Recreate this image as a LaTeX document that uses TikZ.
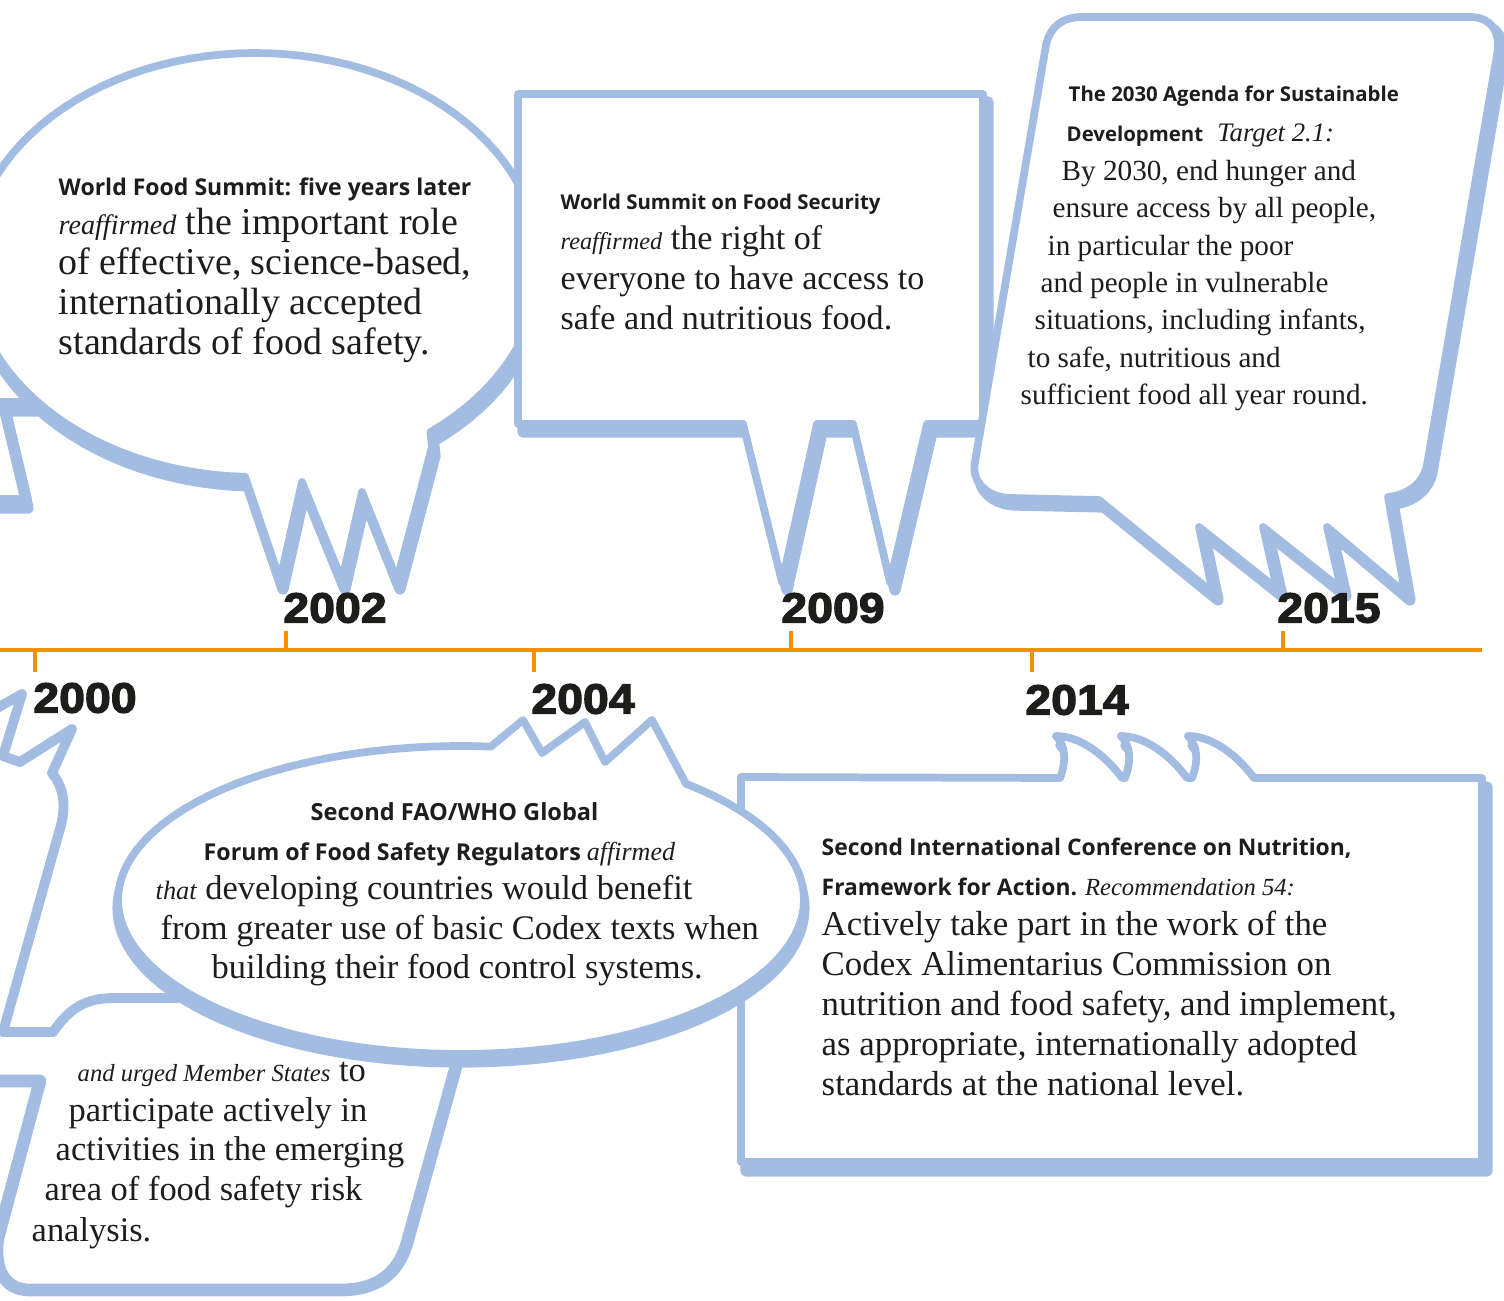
\documentclass[tikz,border=0pt]{standalone}
\usepackage{fontspec}
\setmainfont{Liberation Serif}
\setsansfont{Open Sans}
\newfontfamily\yearfont[FakeBold=3, FakeStretch=1.1]{Liberation Sans}

\definecolor{bubbleblue}{RGB}{162,188,226}
\definecolor{lineorange}{RGB}{243,146,0}
\definecolor{ink}{RGB}{29,29,27}

\newcommand\emword[2][7.2]{{\rmfamily\mdseries\fontsize{#1}{8}\selectfont\itshape #2}}

\tikzset{
  bubble/.style={draw=bubbleblue, fill=white, line width=2.2pt, line join=round,
    preaction={draw=bubbleblue, line width=3.2pt, line join=round, transform canvas={shift={#1}}}},
  bubble/.default={(4,8)},
  outline/.style={draw=bubbleblue, line width=#1, line join=round},
  head/.style={anchor=base west, inner sep=0pt, text=ink, font=\sffamily\bfseries\fontsize{#1}{7}\selectfont},
  head/.default=5.8,
  body/.style={anchor=base west, inner sep=0pt, text=ink, font=\fontsize{#1}{12}\selectfont},
  year/.style={text=ink, inner sep=0pt, font=\yearfont\bfseries\fontsize{12}{14}\selectfont},
  yearline/.style={draw=lineorange, line width=1.4pt}
}

\begin{document}
\begin{tikzpicture}[x=0.01cm, y=-0.01cm]
\useasboundingbox (0,0) rectangle (1504,1301);
\clip (0,0) rectangle (1504,1301);

% bubbles above the line
\draw[bubble={(0,9)}, fill=none] (-20,402) -- (60,402) (5,402) -- (28,499) -- (-20,499);
\draw[bubble={(3,9)}] plot[domain=52:-268, samples=100] ({255+285*cos(\x)}, {265+212*sin(\x)})
  -- (280,580) -- (302,482) -- (342,580) -- (362,492) -- (397,580) -- (432,447) -- cycle;
\draw[bubble={(5,8)}] (518,94) -- (983,94) -- (983,424) -- (927,424) -- (890,582) -- (853,424)
  -- (817,424) -- (782,582) -- (743,424) -- (518,424) -- cycle;
\draw[bubble={(5,7)}] (1082,17) -- (1470,17) .. controls (1492,17) and (1501,33) .. (1497,55)
  -- (1427,465) .. controls (1423,485) and (1406,495) .. (1388,497) -- (1405,593) -- (1327,527)
  -- (1341,589) -- (1263,527) -- (1277,589) -- (1199,527) -- (1213,593) -- (1099,500) -- (1010,498)
  .. controls (985,497) and (971,480) .. (975,462) -- (1046,45) .. controls (1050,27) and (1062,17) .. (1082,17) -- cycle;

% bubbles below the line
\draw[outline=2.8pt] (-10,712) -- (22,694) -- (3,756) -- (20,762) -- (72,729) -- (52,773)
  .. controls (64,788) and (66,805) .. (61,825) -- (3,1032) -- (53,1032)
  .. controls (70,1008) and (85,998) .. (115,998) -- (260,998);
\draw[outline=3.6pt] (-10,1081) -- (40,1081) -- (-2,1238) .. controls (-6,1262) and (0,1290) .. (30,1290)
  -- (340,1290) .. controls (385,1290) and (400,1266) .. (407,1243) -- (462,1045);
\draw[bubble={(5,9)}] (741,777) -- (1060,778)
  .. controls (1067,760) and (1065,745) .. (1056,736) .. controls (1080,736) and (1105,755) .. (1122,778)
  -- (1125,778) .. controls (1132,760) and (1130,745) .. (1121,736) .. controls (1145,736) and (1170,755) .. (1187,778)
  -- (1192,778) .. controls (1199,760) and (1197,745) .. (1188,736) .. controls (1212,736) and (1237,755) .. (1254,778)
  -- (1482,778) -- (1482,1162) -- (741,1162) -- cycle;
\draw[bubble={(0,8)}] plot[domain=-49:275, samples=100] ({461+343*cos(\x)}, {900+154*sin(\x)})
  -- (523,720) -- (542,753) -- (585,722) -- (605,762) -- (652,720) -- cycle;

% time line
\draw[yearline] (0,650) -- (1482,650);
\draw[yearline] (286,650) -- (286,631);
\draw[yearline] (791,650) -- (791,631);
\draw[yearline] (1283,650) -- (1283,631);
\draw[yearline] (35,650) -- (35,672);
\draw[yearline] (534,650) -- (534,672);
\draw[yearline] (1032,650) -- (1032,672);
\node[year] (y2002) at (335,608) {2002};
\node[year] (y2009) at (833,608) {2009};
\node[year] (y2015) at (1329,608) {2015};
\node[year] (y2000) at (85,698) {2000};
\node[year] (y2004) at (583,699) {2004};
\node[year] (y2014) at (1077,700) {2014};

% 2002
\node[head=6.55] (summithead) at (58,196) {World Food Summit: five years later};
\node[body=10.8] (summit1) at (58,235) {\emword[8]{reaffirmed} the important role};
\node[body=10.8] (summit2) at (58,275) {of effective, science-based,};
\node[body=10.8] (summit3) at (58,315) {internationally accepted};
\node[body=10.8] (summit4) at (58,355) {standards of food safety.};

% 2009
\node[head] (securityhead) at (560,210) {World Summit on Food Security};
\node[body=9.7] (security1) at (560,250) {\emword[6.9]{reaffirmed} the right of};
\node[body=9.7] (security2) at (560,290) {everyone to have access to};
\node[body=9.7] (security3) at (560,330) {safe and nutritious food.};

% 2015
\node[head] (agendahead1) at (1068,102) {The 2030 Agenda for Sustainable};
\node[head] (agendahead2) at (1066,142) {Development\hspace{4pt}\emword[7.6]{Target 2.1:}};
\node[body=8.3] (agenda1) at (1061,181) {By 2030, end hunger and};
\node[body=8.3] (agenda2) at (1052,218) {ensure access by all people,};
\node[body=8.3] (agenda3) at (1047,256) {in particular the poor};
\node[body=8.3] (agenda4) at (1040,293) {and people in vulnerable};
\node[body=8.3] (agenda5) at (1034,330) {situations, including infants,};
\node[body=8.3] (agenda6) at (1027,368) {to safe, nutritious and};
\node[body=8.3] (agenda7) at (1020,405) {sufficient food all year round.};

% 2004
\node[head=6.7] (forumhead1) at (310,820) {Second FAO/WHO Global};
\node[head=6.6] (forumhead2) at (203,860) {Forum of Food Safety Regulators \emword[7.4]{affirmed}};
\node[body=9.8] (forum1) at (155,899) {\emword[7.5]{that} developing countries would benefit};
\node[body=9.8] (forum2) at (160,939) {from greater use of basic Codex texts when};
\node[body=9.8] (forum3) at (211,978) {building their food control systems.};

\node[body=9.8] (urged1) at (77,1081) {\emword[7]{and urged Member States} to};
\node[body=9.8] (urged2) at (68,1121) {participate actively in};
\node[body=9.8] (urged3) at (55,1160) {activities in the emerging};
\node[body=9.8] (urged4) at (44,1200) {area of food safety risk};
\node[body=9.8] (urged5) at (31,1241) {analysis.};

% 2014
\node[head=6.5] (icnhead1) at (821,855) {Second International Conference on Nutrition,};
\node[head=6.5] (icnhead2) at (821,895) {Framework for Action. \emword[7]{Recommendation 54:}};
\node[body=9.9] (icn1) at (821,935) {Actively take part in the work of the};
\node[body=9.9] (icn2) at (821,975) {Codex Alimentarius Commission on};
\node[body=9.9] (icn3) at (821,1015) {nutrition and food safety, and implement,};
\node[body=9.9] (icn4) at (821,1055) {as appropriate, internationally adopted};
\node[body=9.9] (icn5) at (821,1095) {standards at the national level.};
\end{tikzpicture}
\end{document}
